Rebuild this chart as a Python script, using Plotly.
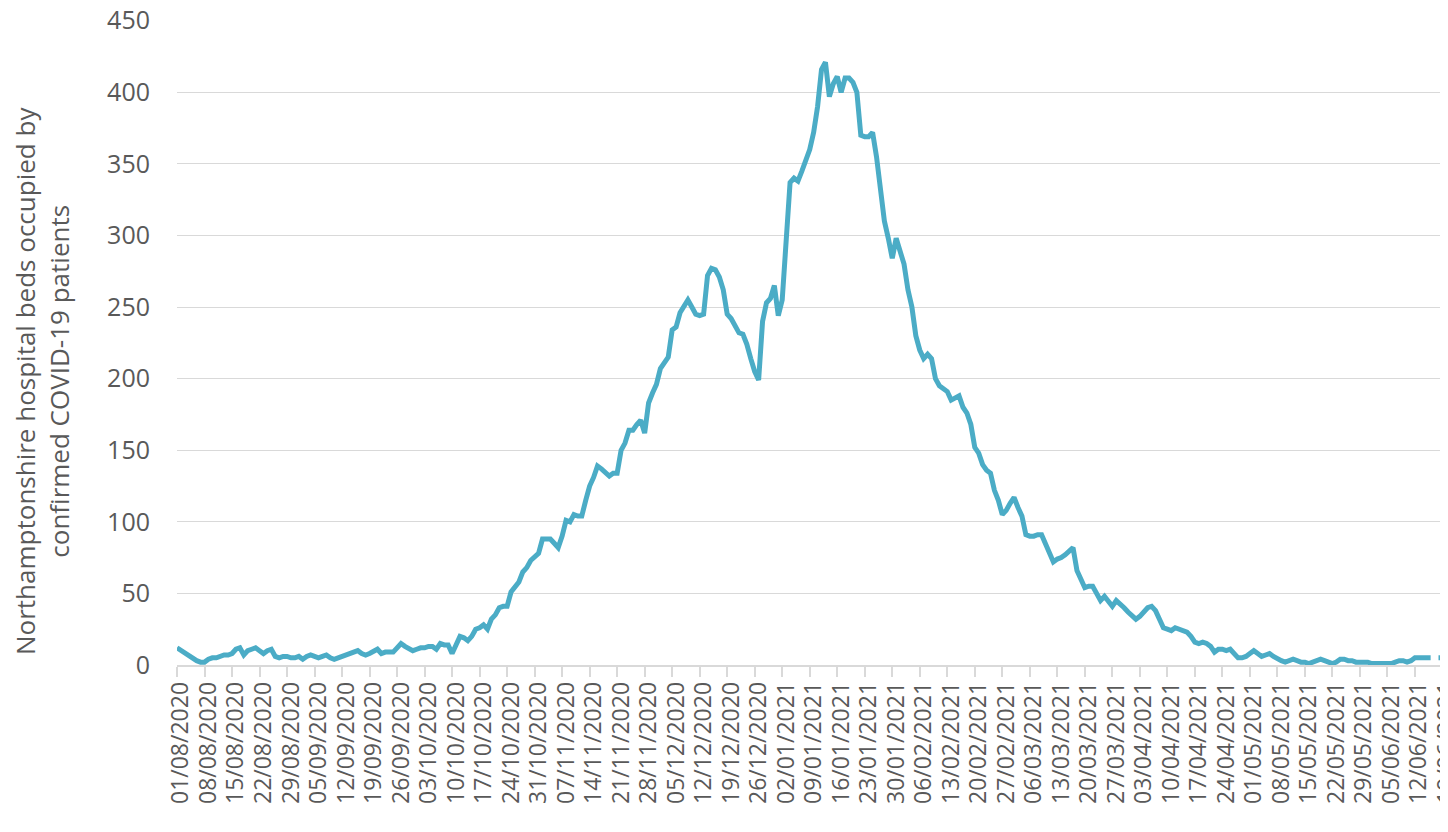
import plotly.graph_objects as go
import pandas as pd

start_date = "2020-08-01"
beds = [
    12, 10, 9, 6, 4, 3, 2, 2, 4, 5,
    5, 6, 7, 7, 8, 11, 12, 7, 10, 11,
    12, 10, 8, 10, 11, 6, 5, 6, 6, 5,
    5, 6, 4, 6, 7, 6, 5, 6, 7, 5,
    4, 5, 6, 7, 8, 9, 10, 8, 7, 8,
    10, 11, 8, 9, 9, 9, 12, 15, 13, 11,
    10, 11, 12, 12, 13, 13, 11, 15, 14, 14,
    8, 14, 20, 19, 17, 20, 25, 26, 28, 25,
    32, 35, 40, 41, 41, 51, 54, 58, 65, 68,
    73, 75, 78, 88, 88, 88, 85, 82, 90, 101,
    100, 105, 104, 104, 115, 125, 131, 139, 137, 135,
    132, 134, 134, 150, 155, 164, 164, 168, 171, 162,
    183, 190, 196, 207, 211, 215, 234, 236, 246, 250,
    255, 250, 245, 244, 245, 272, 277, 276, 271, 262,
    245, 242, 237, 232, 231, 224, 214, 205, 199, 240,
    253, 256, 265, 244, 255, 300, 337, 340, 338, 345,
    352, 360, 372, 390, 416, 421, 397, 406, 411, 400,
    410, 410, 407, 400, 370, 369, 369, 372, 355, 330,
    310, 298, 284, 298, 290, 280, 262, 250, 230, 220,
    214, 217, 214, 200, 195, 193, 191, 185, 187, 188,
    180, 176, 168, 152, 148, 140, 136, 134, 122, 115,
    105, 108, 113, 117, 110, 104, 91, 90, 90, 91,
    91, 84, 77, 72, 74, 75, 77, 80, 82, 66,
    60, 54, 55, 55, 50, 45, 48, 44, 41, 45,
    43, 40, 37, 35, 32, 34, 37, 40, 41, 38,
    32, 26, 25, 24, 26, 25, 24, 23, 20, 16,
    15, 16, 15, 13, 9, 11, 11, 10, 11, 8,
    5, 5, 6, 8, 10, 8, 6, 7, 8, 6,
    4, 3, 2, 3, 4, 3, 2, 2, 1, 2,
    3, 4, 3, 2, 1, 2, 4, 4, 3, 3,
    2, 2, 2, 2, 1, 1, 1, 1, 1, 1,
    2, 3, 3, 2, 3, 5, 5, 5, 5, 5,
    None, 5, 5, 5,
]
dates = pd.date_range(start_date, periods=len(beds), freq="D")

y_ticks = [0, 50, 100, 150, 200, 250, 300, 350, 400, 450]
y_title = "Northamptonshire hospital beds occupied by<br>confirmed COVID-19 patients"

TXT = "#595959"
GRID = "#d9d9d9"
FONT = "Open Sans, Noto Sans, sans-serif"

# page body has an 8px default margin; figure sized to fill the rest
W, H = 1440, 824
L, T, B = 169, 12, 167
PW = W - L

fig = go.Figure()
fig.add_trace(go.Scatter(
    x=dates, y=beds, mode="lines",
    line=dict(color="#4BACC6", width=5),
    connectgaps=False, hoverinfo="skip", showlegend=False,
))

fig.update_layout(
    width=W, height=H,
    margin=dict(l=L, r=0, t=T, b=B),
    paper_bgcolor="white", plot_bgcolor="white",
    font=dict(family=FONT, color=TXT),
    xaxis=dict(
        type="date", automargin=False,
        range=["2020-08-01", "2021-06-20 10:00"],
        tick0="2020-08-01", dtick=7 * 86400000,
        tickformat="%d/%m/%Y", tickangle=-90,
        tickfont=dict(size=23, color=TXT),
        showgrid=False, zeroline=False,
        showline=True, linecolor=GRID, linewidth=1.5,
        ticks="outside", ticklen=10, tickcolor=GRID, tickwidth=1.5,
        ticklabelstandoff=-4, ticklabelshift=4,
        ticklabeloverflow="allow",
    ),
    yaxis=dict(
        range=[0, 450.5], tickvals=y_ticks, automargin=False,
        tickfont=dict(size=25, color=TXT),
        showgrid=True, gridcolor=GRID, gridwidth=1,
        zeroline=False, showline=False, ticks="",
        ticklabelstandoff=26, ticklabeloverflow="allow",
    ),
    annotations=[dict(
        text=y_title, textangle=-90, showarrow=False,
        xref="paper", yref="paper",
        x=(34 - L) / PW, y=(657 - 373) / (H - T - B),
        xanchor="center", yanchor="middle",
        font=dict(size=26, color=TXT, family=FONT),
    )],
)

fig.write_html("out.html")
